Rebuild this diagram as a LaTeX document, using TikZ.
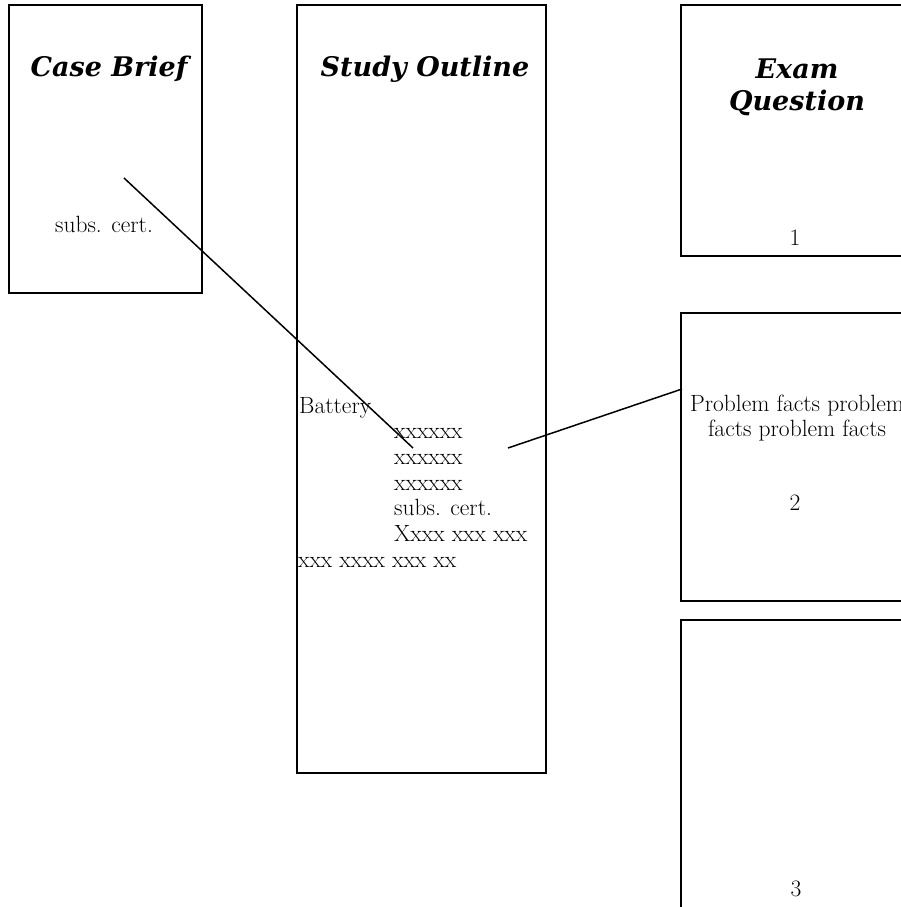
\documentclass[tikz,border=0pt]{standalone}
\usepackage{fontspec}
\newfontfamily\titlefont{DejaVu Serif}
\begin{document}
\begin{tikzpicture}[x=1pt,y=-1pt,
  card/.style={draw, line width=2.4pt, inner sep=0pt, outer sep=0pt},
  ttl/.style={inner sep=0pt, anchor=base, font=\titlefont\fontsize{27}{30}\selectfont\bfseries\itshape, align=center},
  body/.style={inner sep=0pt, font=\fontsize{23.5}{25.8}\selectfont},
  link/.style={line width=1.5pt}]
\useasboundingbox (0,0) rectangle (901,907);
\clip (0,0) rectangle (901,907);
% boxes
\draw[card] (9,5) rectangle (202,293) node[pos=0.5] (brief) {};
\draw[card] (297,5) rectangle (546,773) node[pos=0.5] (outline) {};
\draw[card] (681,5) rectangle (915,256) node[pos=0.5] (q1) {};
\draw[card] (681,313) rectangle (930,601) node[pos=0.5] (q2) {};
\draw[card] (681,620) rectangle (930,930) node[pos=0.5] (q3) {};
% titles
\node[ttl] (tbrief) at (109,77) {Case Brief};
\node[ttl] (toutline) at (425,77) {Study Outline};
\node[ttl] (tq1a) at (797,78) {Exam};
\node[ttl] (tq1b) at (797,110) {Question};
% case brief text
\node[body, anchor=base] (bsc) at (104,232) {subs. cert.};
% outline text
\node[body, anchor=base west] (o1) at (299,413) {Battery};
\node[body, anchor=base west] (o2) at (394,438) {xxxxxx};
\node[body, anchor=base west] (o3) at (394,464) {xxxxxx};
\node[body, anchor=base west] (o4) at (394,490) {xxxxxx};
\node[body, anchor=base west] (o5) at (394,515) {subs. cert.};
\node[body, anchor=base west] (o6) at (394,541) {Xxxx xxx xxx};
\node[body, anchor=base west] (o7) at (298,567) {xxx xxxx xxx xx};
% exam question texts
\node[body, anchor=base] (n1) at (795,245) {1};
\node[body, anchor=base] (p1) at (797,411) {Problem facts problem};
\node[body, anchor=base] (p2) at (797,436) {facts problem facts};
\node[body, anchor=base] (n2) at (795,510) {2};
\node[body, anchor=base] (n3) at (796,896) {3};
% connectors
\coordinate (a1) at (124,178);
\coordinate (a2) at (413,448);
\coordinate (b1) at (508,448);
\coordinate (b2) at (682,389);
\draw[link] (a1) -- (a2);
\draw[link] (b1) -- (b2);
\end{tikzpicture}
\end{document}
